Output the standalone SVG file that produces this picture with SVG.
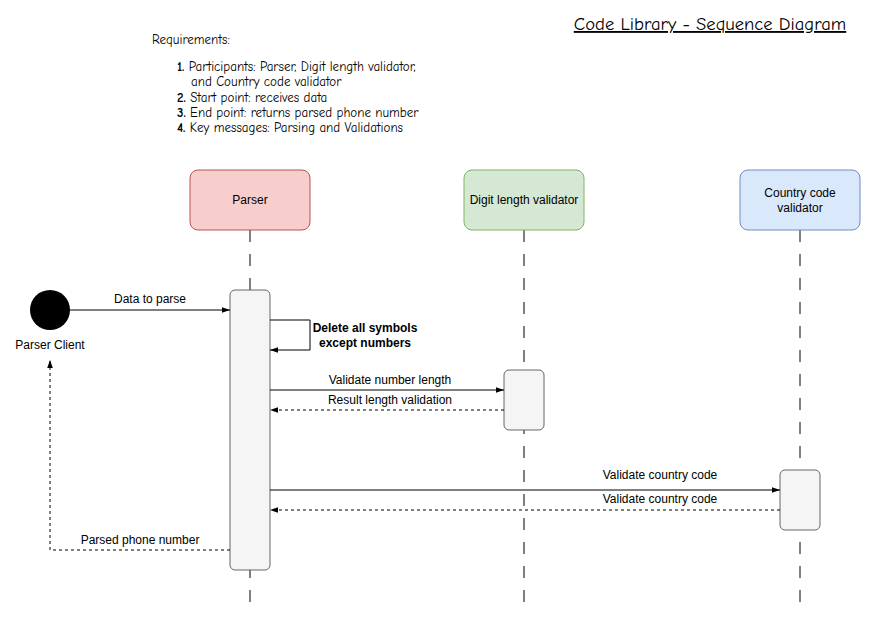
<svg xmlns="http://www.w3.org/2000/svg" width="872" height="621" viewBox="0 0 872 621">
<style>
.t{font-family:"Liberation Sans",Arial,sans-serif;font-size:12px;fill:#000}
.h{font-family:"Comic Neue","Liberation Sans",sans-serif;fill:#000}
.life{stroke:#000;stroke-width:1;stroke-dasharray:12 12;fill:none}
.act{fill:#f5f5f5;stroke:#666;stroke-width:1}
.msg{stroke:#000;stroke-width:1;fill:none}
.ret{stroke:#000;stroke-width:1;fill:none;stroke-dasharray:3 3}
</style>
<defs>
<marker id="ah" viewBox="0 0 10 10" refX="10" refY="5" markerWidth="10" markerHeight="8" markerUnits="userSpaceOnUse" orient="auto">
<path d="M0,1.5 L10,5 L0,8.5 Z" fill="#000"/>
</marker>
</defs>
<rect width="872" height="621" fill="#fff"/>

<g id="title">
<text class="h" x="710" y="30" font-size="18.6" text-anchor="middle" text-decoration="underline">Code Library - Sequence Diagram</text>
</g>

<g id="requirements">
<text class="h" x="152" y="44" font-size="13">Requirements:</text>
<text class="h" x="177" y="71" font-size="13"><tspan font-weight="bold">1.</tspan> Participants: Parser, Digit length validator,</text>
<text class="h" x="191" y="86" font-size="13">and Country code validator</text>
<text class="h" x="177" y="102" font-size="13"><tspan font-weight="bold">2.</tspan> Start point: receives data</text>
<text class="h" x="177" y="117" font-size="13"><tspan font-weight="bold">3.</tspan> End point: returns parsed phone number</text>
<text class="h" x="177" y="132" font-size="13"><tspan font-weight="bold">4.</tspan> Key messages: Parsing and Validations</text>
</g>

<g id="parser">
<line class="life" x1="250" y1="230" x2="250" y2="610"/>
<rect x="190" y="170" width="120" height="60" rx="8" fill="#f8cecc" stroke="#b85450"/>
<text class="t" x="250" y="204" text-anchor="middle">Parser</text>
<rect class="act" x="230" y="290" width="40" height="280" rx="5"/>
</g>

<g id="digit-length-validator">
<line class="life" x1="524" y1="230" x2="524" y2="610"/>
<rect x="464" y="170" width="120" height="60" rx="8" fill="#d5e8d4" stroke="#82b366"/>
<text class="t" x="524" y="204" text-anchor="middle">Digit length validator</text>
<rect class="act" x="504" y="370" width="40" height="60" rx="5"/>
</g>

<g id="country-code-validator">
<line class="life" x1="800" y1="230" x2="800" y2="610"/>
<rect x="740" y="170" width="120" height="60" rx="8" fill="#dae8fc" stroke="#6c8ebf"/>
<text class="t" x="800" y="197" text-anchor="middle">Country code</text>
<text class="t" x="800" y="212" text-anchor="middle">validator</text>
<rect class="act" x="780" y="470" width="40" height="60" rx="5"/>
</g>

<g id="parser-client">
<circle cx="50" cy="310" r="20" fill="#000"/>
<text class="t" x="50" y="349" text-anchor="middle">Parser Client</text>
</g>

<g id="connectors">
<path class="msg" d="M70,310 H230" marker-end="url(#ah)"/>
<text class="t" x="150" y="303" text-anchor="middle">Data to parse</text>

<path class="msg" d="M270,320 H310 V350 H270" marker-end="url(#ah)"/>
<text class="t" x="365" y="332" text-anchor="middle" font-weight="bold">Delete all symbols</text>
<text class="t" x="365" y="347" text-anchor="middle" font-weight="bold">except numbers</text>

<path class="msg" d="M270,390 H504" marker-end="url(#ah)"/>
<text class="t" x="390" y="384" text-anchor="middle">Validate number length</text>

<path class="ret" d="M504,410 H270" marker-end="url(#ah)"/>
<text class="t" x="390" y="404" text-anchor="middle">Result length validation</text>

<path class="msg" d="M270,490 H780" marker-end="url(#ah)"/>
<text class="t" x="660" y="479" text-anchor="middle">Validate country code</text>

<path class="ret" d="M780,510 H270" marker-end="url(#ah)"/>
<text class="t" x="660" y="503" text-anchor="middle">Validate country code</text>

<path class="ret" d="M230,550 H50 V360" marker-end="url(#ah)"/>
<text class="t" x="140" y="544" text-anchor="middle">Parsed phone number</text>
</g>
</svg>
